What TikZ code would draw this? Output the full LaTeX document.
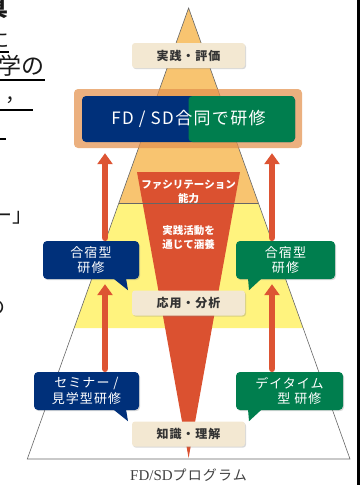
\documentclass[tikz,border=0pt]{standalone}
\usepackage{fontspec}
\newfontfamily\cjk{Noto Sans CJK JP}
\newfontfamily\cjkwide[LetterSpace=8]{Noto Sans CJK JP}
\newfontfamily\capserif{Liberation Serif}
\usetikzlibrary{arrows.meta,shadows,calc}

\definecolor{pyrorange}{HTML}{F8C470}
\definecolor{pyryellow}{HTML}{FFF37E}
\definecolor{funnelred}{HTML}{DB5130}
\definecolor{arrowred}{HTML}{DD5433}
\definecolor{navy}{HTML}{00307A}
\definecolor{fdgreen}{HTML}{007E4E}
\definecolor{tagbeige}{HTML}{F3E8D2}
\definecolor{hlorange}{HTML}{E3924E}

\tikzset{
  pyrline/.style={draw=black!60, line width=0.6pt},
  tag/.style={rounded corners=3pt, fill=tagbeige, inner sep=0pt,
    minimum width=113pt, minimum height=25pt, text=black!80,
    font=\cjkwide\bfseries\fontsize{12}{14}\selectfont,
    drop shadow={shadow xshift=1pt, shadow yshift=-1.2pt, opacity=.3}},
  bubble/.style={rounded corners=4pt, text=white, align=center, inner sep=0pt,
    minimum height=38pt, font=\cjkwide\fontsize{13}{15.5}\selectfont,
    drop shadow={shadow xshift=1pt, shadow yshift=-1.2pt, opacity=.3}},
  uparrow/.style={draw=arrowred, line width=6.5pt, line cap=round,
    shorten <=3pt, shorten >=5pt, -{Triangle[width=15pt,length=11pt]}},
  funneltext/.style={text=white, align=center, inner sep=0pt,
    font=\cjk\bfseries\fontsize{10.5}{14}\selectfont},
  frag/.style={inner sep=0pt, text=black!90}
}

\begin{document}
\begin{tikzpicture}[x=1pt,y=-1pt]
  \useasboundingbox (0,0) rectangle (362,485);
  \clip (0,0) rectangle (362,485);

  % page text cut off at the left
  \node[frag, anchor=east, font=\cjk\bfseries\fontsize{22}{22}\selectfont] (frag1) at (9,9) {具};
  \node[frag, anchor=east, font=\cjk\fontsize{20}{20}\selectfont] (frag2) at (10,40) {に};
  \draw[line width=1.2pt] (0,52) -- (9,52);
  \node[frag, anchor=east, font=\cjk\fontsize{23}{23}\selectfont] (frag3) at (45,66) {学の};
  \draw[line width=1.2pt] (0,80) -- (45,80);
  \node[frag, anchor=west, font=\cjk\fontsize{20}{20}\selectfont] (frag4) at (5,100) {，};
  \draw[line width=1.2pt] (0,110) -- (33,110);
  \draw[line width=1.2pt] (0,139) -- (6,139);
  \node[frag, anchor=east, font=\cjk\fontsize{20}{20}\selectfont] (frag5) at (33,218) {ー」};
  \node[frag, anchor=east, font=\cjk\fontsize{20}{20}\selectfont] (frag6) at (6,308) {の};

  % pyramid
  \coordinate (apex) at (188.6,8);
  \coordinate (bL) at (27.3,459);
  \coordinate (bR) at (350,459);
  \fill[pyrorange] (apex) -- (118.9,203) -- (258.3,203) -- cycle;
  \fill[pyryellow] (118.9,203) -- (74.2,328) -- (303.1,328) -- (258.3,203) -- cycle;
  \fill[funnelred] (137,172) -- (240,172) -- (188.6,458) -- cycle;
  \draw[pyrline] (118.9,203) -- (258.3,203);
  \draw[pyrline] (apex) -- (bL) -- (bR) -- cycle;

  \node[funneltext] (fac) at (188.6,192) {ファシリテーション\\能力};
  \node[funneltext] (prac) at (188.6,238) {実践活動を\\通じて涵養};

  % FD/SD box
  \node[rounded corners=4pt, fill=hlorange, fill opacity=.72, minimum width=228pt,
    minimum height=59pt] (hl) at (188,118.5) {};
  \node[rounded corners=4pt, fill=navy, text=white, minimum width=213pt, minimum height=46pt,
    font=\cjkwide\fontsize{17}{17}\selectfont,
    path picture={\fill[fdgreen] (path picture bounding box.south) rectangle (path picture bounding box.north east);}]
    (fd) at (188.5,119) {FD / SD合同で研修};

  % levels
  \node[tag] (eval) at (188.5,55.5) {実践・評価};
  \node[tag] (app) at (188.5,303) {応用・分析};
  \node[tag] (know) at (188.5,434) {知識・理解};

  % callouts
  \node[bubble, fill=navy, minimum width=96pt] (gasL) at (91,260) {合宿型\\研修};
  \fill[navy] ([xshift=22pt,yshift=1pt]gasL.south) -- ([xshift=35pt,yshift=1pt]gasL.south) -- ([xshift=37pt,yshift=-11pt]gasL.south) -- cycle;
  \node[bubble, fill=fdgreen, minimum width=99pt] (gasR) at (285.5,260) {合宿型\\研修};
  \fill[fdgreen] ([xshift=-37.5pt,yshift=1pt]gasR.south) -- ([xshift=-23.5pt,yshift=1pt]gasR.south) -- ([xshift=-36.5pt,yshift=-11pt]gasR.south) -- cycle;
  \node[bubble, fill=navy, minimum width=105pt] (semL) at (86.5,391) {セミナー /\\見学型研修};
  \fill[navy] ([xshift=26.5pt,yshift=1pt]semL.south) -- ([xshift=39.5pt,yshift=1pt]semL.south) -- ([xshift=41.5pt,yshift=-11pt]semL.south) -- cycle;
  \node[bubble, fill=fdgreen, minimum width=107pt, align=left] (dayR) at (289.5,391) {デイタイム\\\hspace*{22pt}型 研修};
  \fill[fdgreen] ([xshift=-41.5pt,yshift=1pt]dayR.south) -- ([xshift=-27.5pt,yshift=1pt]dayR.south) -- ([xshift=-40.5pt,yshift=-11pt]dayR.south) -- cycle;

  % arrows
  \coordinate (lx) at (105,0);
  \coordinate (rx) at (272,0);
  \draw[uparrow] (lx |- semL.north) -- (lx |- gasL.south);
  \draw[uparrow] (lx |- gasL.north) -- (lx |- hl.south);
  \draw[uparrow] (rx |- dayR.north) -- (rx |- gasR.south);
  \draw[uparrow] (rx |- gasR.north) -- (rx |- hl.south);

  \node[text=black!75, inner sep=0pt] (cap) at (188.5,475)
    {{\capserif\fontsize{15}{15}\selectfont FD/SD}{\cjkwide\fontsize{14}{14}\selectfont プログラム}};

  % page edge
  \fill[black] (356.5,0) rectangle (359.5,485);
\end{tikzpicture}
\end{document}
